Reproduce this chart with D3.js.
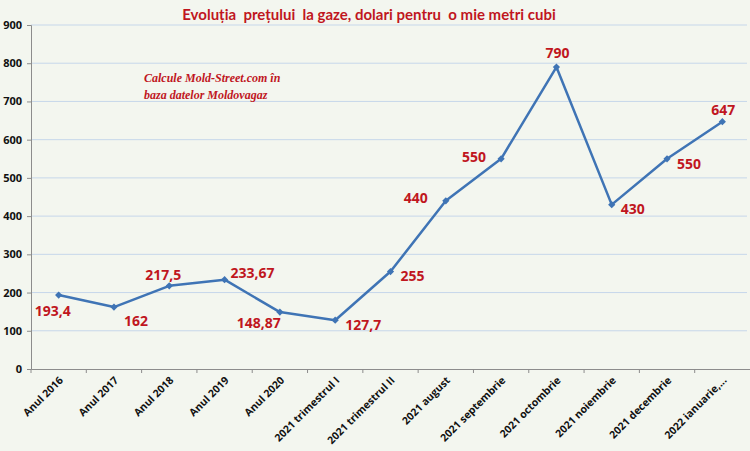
<!DOCTYPE html>
<html>
<head>
<meta charset="utf-8">
<script src="https://cdn.jsdelivr.net/npm/d3@7"></script>
<style>
  body { margin: 0; background: #f3f6ef; }
  svg { display: block; }
</style>
</head>
<body>
<div id="chart"></div>
<script>
var categories = ["Anul 2016", "Anul 2017", "Anul 2018", "Anul 2019", "Anul 2020",
    "2021 trimestrul I", "2021 trimestrul II", "2021 august", "2021 septembrie",
    "2021 octombrie", "2021 noiembrie", "2021 decembrie", "2022 ianuarie,..."];
var prices = [193.4, 162, 217.5, 233.67, 148.87, 127.7, 255, 440, 550, 790, 430, 550, 647];
var priceLabels = ["193,4", "162", "217,5", "233,67", "148,87", "127,7", "255", "440", "550", "790", "430", "550", "647"];
var yTicks = [0, 100, 200, 300, 400, 500, 600, 700, 800, 900];

// where each data label sits relative to its point
var labelOffsets = [[-6, 16], [22, 14], [-6, -11], [28, -7], [-21, 11], [28, 5], [22, 5], [-30, -3], [-27, -2], [1, -14], [21, 4], [22, 5], [1, -12]];

var width = 750,
    height = 451;
var margin = {top: 25, right: 0, bottom: 82, left: 31};

var svg = d3.select("#chart").append("svg")
    .attr("width", width)
    .attr("height", height);

svg.append("rect")
    .attr("width", width)
    .attr("height", height)
    .attr("fill", "#f3f6ef");

var x = d3.scalePoint()
    .domain(categories)
    .range([margin.left, width - margin.right])
    .padding(0.5);

var xBand = d3.scaleBand()
    .domain(categories)
    .range([margin.left, width - margin.right]);

var y = d3.scaleLinear()
    .domain([0, 900])
    .range([height - margin.bottom, margin.top]);

// gridlines
svg.append("g")
    .selectAll("line")
    .data(yTicks.slice(1))
    .enter().append("line")
    .attr("x1", margin.left)
    .attr("x2", width - 3)
    .attr("y1", function (d) { return y(d); })
    .attr("y2", function (d) { return y(d); })
    .attr("stroke", "#c6d7ea")
    .attr("stroke-width", 1);

// y axis
var yAxis = svg.append("g")
    .attr("transform", "translate(" + margin.left + ",0)")
    .call(d3.axisLeft(y).tickValues(yTicks).tickSize(4).tickPadding(5));
yAxis.select(".domain").attr("stroke", "#8c8c8c");
yAxis.selectAll(".tick line").attr("stroke", "#8c8c8c");
yAxis.selectAll("text")
    .attr("font-family", "'Open Sans', sans-serif")
    .attr("font-weight", "bold")
    .attr("font-size", "11px")
    .attr("fill", "#111");

// x axis
var xAxis = svg.append("g")
    .attr("transform", "translate(0," + y(0) + ")")
    .call(d3.axisBottom(xBand).tickSize(0).tickFormat(""));
xAxis.select(".domain").attr("stroke", "#8c8c8c");

svg.append("g")
    .selectAll("line")
    .data(categories)
    .enter().append("line")
    .attr("x1", function (d) { return xBand(d); })
    .attr("x2", function (d) { return xBand(d); })
    .attr("y1", y(0))
    .attr("y2", y(0) + 4)
    .attr("stroke", "#8c8c8c");

svg.append("g")
    .selectAll("text")
    .data(categories)
    .enter().append("text")
    .attr("transform", function (d) {
        return "translate(" + (x(d) + 5) + "," + (y(0) + 12) + ") rotate(-45)";
    })
    .attr("text-anchor", "end")
    .attr("font-family", "'Open Sans', sans-serif")
    .attr("font-weight", "bold")
    .attr("font-size", "10.5px")
    .attr("fill", "#111")
    .text(function (d) { return d; });

// line
var line = d3.line()
    .x(function (d, i) { return x(categories[i]); })
    .y(function (d) { return y(d); });

svg.append("path")
    .datum(prices)
    .attr("d", line)
    .attr("fill", "none")
    .attr("stroke", "#3f74b5")
    .attr("stroke-width", 2.5)
    .attr("stroke-linejoin", "round");

svg.append("g")
    .selectAll("path")
    .data(prices)
    .enter().append("path")
    .attr("transform", function (d, i) {
        return "translate(" + x(categories[i]) + "," + y(d) + ") rotate(45)";
    })
    .attr("d", d3.symbol().type(d3.symbolSquare).size(26))
    .attr("fill", "#3f74b5");

// data labels
svg.append("g")
    .selectAll("text")
    .data(prices)
    .enter().append("text")
    .attr("x", function (d, i) { return x(categories[i]) + labelOffsets[i][0]; })
    .attr("y", function (d, i) { return y(d) + labelOffsets[i][1]; })
    .attr("dy", "0.35em")
    .attr("text-anchor", "middle")
    .attr("font-family", "'Open Sans', sans-serif")
    .attr("font-weight", "bold")
    .attr("font-size", "14px")
    .attr("fill", "#c0161e")
    .text(function (d, i) { return priceLabels[i]; });

// title (keeps the double spaces of the original)
svg.append("text")
    .attr("x", 369)
    .attr("y", 20)
    .attr("text-anchor", "middle")
    .style("white-space", "pre")
    .attr("font-family", "Lato, sans-serif")
    .attr("font-weight", "bold")
    .attr("font-size", "15px")
    .attr("fill", "#c0161e")
    .text("Evoluția  prețului  la gaze, dolari pentru  o mie metri cubi");

// source note
var note = svg.append("text")
    .attr("font-family", "'Liberation Serif', serif")
    .attr("font-style", "italic")
    .attr("font-weight", "bold")
    .attr("font-size", "12px")
    .attr("fill", "#c0161e");
note.append("tspan").attr("x", 144).attr("y", 82).text("Calcule Mold-Street.com în");
note.append("tspan").attr("x", 144).attr("y", 99).text("baza datelor Moldovagaz");
</script>
</body>
</html>
